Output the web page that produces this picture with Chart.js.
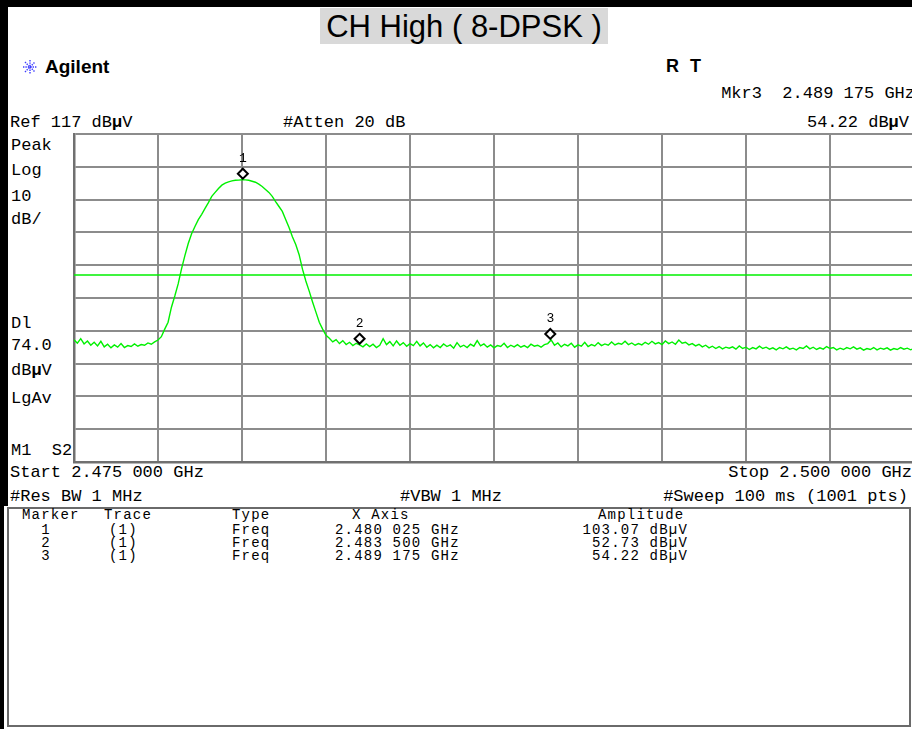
<!DOCTYPE html>
<html>
<head>
<meta charset="utf-8">
<script src="https://cdn.jsdelivr.net/npm/chart.js@4.4.1/dist/chart.umd.min.js"></script>
<style>
  body { margin: 0; width: 912px; height: 729px; overflow: hidden; background: #fff; position: relative;
         font-family: "Liberation Mono", "DejaVu Sans Mono", monospace; color: #000; }
  .t { position: absolute; white-space: pre; font-size: 17px; line-height: 17px; }
  .s { position: absolute; white-space: pre; font-size: 14px; line-height: 14px; letter-spacing: 1.2px; }
  .sans { font-family: "Liberation Sans", Arial, sans-serif; font-weight: bold; }
  #frameTop { position: absolute; left: 0; top: 0; width: 912px; height: 7px; background: #000; }
  #frameLeft { position: absolute; left: 0; top: 0; width: 8px; height: 506px; background: #000; }
  #frameLeft2 { position: absolute; left: 0; top: 506px; width: 4px; height: 223px; background: #000; }
  #title { position: absolute; left: 320px; top: 8px; width: 288px; height: 36px; background: #d9d9d9;
           font-family: "Liberation Sans", Arial, sans-serif; font-size: 31px; line-height: 37px; text-align: center; }
  #tableBox { position: absolute; left: 7px; top: 507px; width: 900px; height: 216px;
              border: 2px solid #6a6a6a; }
  #chart { position: absolute; left: 0; top: 0; }
</style>
</head>
<body>
<div id="frameTop"></div>
<div id="frameLeft"></div>
<div id="frameLeft2"></div>
<div id="title">CH High ( 8-DPSK )</div>

<svg style="position:absolute;left:22px;top:59px" width="16" height="16" viewBox="-8 -8 16 16">
  <g stroke="#3c3cff" stroke-width="1.4" stroke-dasharray="1.4 1">
    <line x1="-7" y1="0" x2="7" y2="0"/><line x1="0" y1="-7" x2="0" y2="7"/>
    <line x1="-5" y1="-5" x2="5" y2="5"/><line x1="-5" y1="5" x2="5" y2="-5"/>
  </g>
</svg>
<div class="t sans" style="left:45px;top:58px;font-size:19px">Agilent</div>
<div class="t sans" style="left:666px;top:58px;font-size:18px">R</div>
<div class="t sans" style="left:690px;top:58px;font-size:18px">T</div>

<div class="t" style="right:-3px;top:85px">Mkr3  2.489 175 GHz</div>
<div class="t" style="left:10px;top:114px">Ref 117 dB<b>µ</b>V</div>
<div class="t" style="left:283px;top:114px">#Atten 20 dB</div>
<div class="t" style="right:3px;top:114px">54.22 dB<b>µ</b>V</div>

<div class="t" style="left:11px;top:137px">Peak</div>
<div class="t" style="left:11px;top:162px">Log</div>
<div class="t" style="left:11px;top:188px">10</div>
<div class="t" style="left:11px;top:211px">dB/</div>
<div class="t" style="left:11px;top:315px">Dl</div>
<div class="t" style="left:11px;top:337px">74.0</div>
<div class="t" style="left:11px;top:362px">dB<b>µ</b>V</div>
<div class="t" style="left:11px;top:390px">LgAv</div>
<div class="t" style="left:11px;top:442px">M1  S2</div>

<div class="t" style="left:10px;top:464px">Start 2.475 000 GHz</div>
<div class="t" style="right:0px;top:464px">Stop 2.500 000 GHz</div>
<div class="t" style="left:10px;top:488px">#Res BW 1 MHz</div>
<div class="t" style="left:400px;top:488px">#VBW 1 MHz</div>
<div class="t" style="right:4px;top:488px">#Sweep 100 ms (1001 pts)</div>

<div id="tableBox"></div>
<div id="markerTable"></div>

<canvas id="chart" width="916" height="729"></canvas>

<script>
// sweep settings
const startGHz = 2.475;
const stopGHz = 2.500;
const refLevelDbuv = 117;
const dbPerDiv = 10;
const displayLineDbuv = 74.0;

// trace 1, 251 readings across the span (dBµV)
const traceDbuv = [
  54.3, 53.2, 54.6, 53.0, 53.9, 52.6, 53.5, 52.4, 53.8, 52.1,
  52.9, 51.8, 52.7, 52.0, 53.1, 51.9, 52.5, 52.2, 53.0, 52.3,
  52.8, 52.6, 53.3, 52.9, 53.6, 54.2,
  55.2, 57.5, 59.6, 64.2, 67.6, 71.3, 75.9, 79.9, 83.6, 86.6,
  88.8, 90.9, 92.5, 94.3, 96.1, 98.0, 99.2, 100.4, 101.4, 102.0,
  102.4, 102.7, 102.9, 102.95, 103.07, 103.0, 102.9, 102.6, 102.3, 101.7,
  101.0, 100.1, 99.2, 98.0, 96.4, 94.9, 93.4, 90.9, 88.5, 85.7,
  83.3, 80.2, 75.8, 72.2, 69.1, 65.8, 62.7, 59.6, 57.5, 55.6,
  54.7,
  53.6, 54.3, 53.1, 54.0, 52.8, 53.5, 52.5, 53.2, 52.73, 52.1,
  53.0, 52.2, 52.9, 51.9, 52.6, 54.6, 52.8, 53.7, 52.4, 53.9,
  52.6, 53.4, 52.3, 53.1, 52.5, 53.8, 52.4,
  53.3, 52.0, 52.8, 51.8, 52.6, 51.9, 53.0, 52.2, 52.7, 51.7,
  53.4, 52.1, 52.6, 51.9, 52.9, 52.3, 54.0, 52.4, 53.0, 52.0,
  52.7, 51.8, 52.5, 52.2, 53.2, 51.9, 52.6, 52.1, 52.8, 52.0,
  52.5, 51.9, 52.9, 52.3, 52.6, 52.0, 52.8, 53.1,
  54.22, 52.6, 53.3, 52.1, 52.9, 52.4, 53.2, 52.0, 52.7, 52.3,
  53.5, 52.2, 52.8, 52.4, 53.4, 52.5, 53.0, 52.6, 53.6, 52.7,
  53.2, 52.9, 53.8, 52.8, 53.3, 52.6, 53.1, 52.7, 53.5, 52.9,
  53.8, 53.0, 53.4, 52.8, 53.9, 53.1, 53.6, 52.9, 54.2, 53.2,
  53.5, 52.7, 53.1,
  52.4, 52.9, 52.1, 52.6, 51.8, 52.3, 51.6, 52.2, 51.5, 52.0,
  51.7, 52.1, 51.4, 52.4, 51.6, 52.0, 51.3, 51.9, 51.5, 52.3,
  51.6, 52.0, 51.4, 51.8, 51.2, 51.9, 51.5, 52.1, 51.4, 51.7,
  51.2, 51.9, 51.6, 52.4, 51.5, 52.0, 51.3, 51.8, 51.4, 52.2,
  51.6, 51.9, 51.2, 51.7, 51.3, 51.9, 51.5, 52.1, 51.4, 51.8,
  51.1, 51.6, 51.3, 51.9, 51.2, 51.7, 51.4, 51.8, 51.1, 51.6,
  51.3, 51.9, 51.4, 51.7, 51.2, 51.6
];

// marker readouts
const markerIds = ['1', '2', '3'];
const markerFreqGHz = [2.480025, 2.4835, 2.489175];
const markerAmpDbuv = [103.07, 52.73, 54.22];

const traceGreen = '#00f000';
const gridGray = '#8c8c8c';

const stepGHz = (stopGHz - startGHz) / (traceDbuv.length - 1);
const tracePoints = traceDbuv.map((v, i) => ({ x: startGHz + i * stepGHz, y: v }));
const bottomDbuv = refLevelDbuv - 10 * dbPerDiv;

// marker table below the screen
function fmtFreq(f) {
  const s = f.toFixed(6);
  return s.slice(0, 5) + ' ' + s.slice(5) + ' GHz';
}
const header = ['Marker', 'Trace', 'Type', 'X Axis', 'Amplitude'];
const headerLeft = [22, 104, 232, 352, 598];
const rowLeft = [40, 109, 232, 335, 560];
const rowWidth = [12, 40, 40, 130, 128];
const rowAlign = ['center', 'left', 'left', 'left', 'right'];
const tableEl = document.getElementById('markerTable');
function cell(txt, left, top, width, align) {
  const d = document.createElement('div');
  d.className = 's';
  d.style.left = left + 'px';
  d.style.top = top + 'px';
  if (width) d.style.width = width + 'px';
  if (align) d.style.textAlign = align;
  d.textContent = txt;
  tableEl.appendChild(d);
}
header.forEach((h, ci) => cell(h, headerLeft[ci], 508));
markerIds.forEach((id, i) => {
  const vals = [id, '(1)', 'Freq', fmtFreq(markerFreqGHz[i]), markerAmpDbuv[i].toFixed(2) + ' dBµV'];
  vals.forEach((v, ci) => cell(v, rowLeft[ci], 523 + i * 13, rowWidth[ci], rowAlign[ci]));
});

// diamonds and numbers sit just above the trace point
const markerPlugin = {
  id: 'markers',
  afterDatasetsDraw(chart) {
    const { ctx, scales: { x, y } } = chart;
    ctx.save();
    markerFreqGHz.forEach((f, i) => {
      const px = x.getPixelForValue(f);
      const py = y.getPixelForValue(markerAmpDbuv[i]) - 6;
      ctx.beginPath();
      ctx.moveTo(px, py - 5);
      ctx.lineTo(px + 5, py);
      ctx.lineTo(px, py + 5);
      ctx.lineTo(px - 5, py);
      ctx.closePath();
      ctx.fillStyle = '#fff';
      ctx.fill();
      ctx.lineWidth = 2;
      ctx.strokeStyle = '#000';
      ctx.stroke();
      ctx.fillStyle = '#000';
      ctx.font = '13px "Liberation Mono"';
      ctx.textAlign = 'center';
      ctx.textBaseline = 'middle';
      ctx.fillText(markerIds[i], px, py - 15);
    });
    ctx.restore();
  }
};

new Chart(document.getElementById('chart'), {
  type: 'line',
  data: {
    datasets: [
      {
        data: [{ x: startGHz, y: displayLineDbuv }, { x: stopGHz, y: displayLineDbuv }],
        borderColor: traceGreen,
        borderWidth: 1.5,
        pointRadius: 0
      },
      {
        data: tracePoints,
        borderColor: traceGreen,
        borderWidth: 1.4,
        pointRadius: 0,
        tension: 0
      }
    ]
  },
  options: {
    responsive: false,
    animation: false,
    events: [],
    layout: { padding: { left: 74, top: 134, right: 2, bottom: 267 } },
    plugins: { legend: { display: false }, tooltip: { enabled: false } },
    scales: {
      x: {
        type: 'linear',
        min: startGHz,
        max: stopGHz,
        afterBuildTicks(axis) {
          const ticks = [];
          for (let i = 0; i <= 10; i++) ticks.push({ value: startGHz + i * (stopGHz - startGHz) / 10 });
          axis.ticks = ticks;
        },
        ticks: { display: false },
        grid: { color: gridGray, lineWidth: 2, drawTicks: false },
        border: { color: '#707070', width: 2.5 }
      },
      y: {
        min: bottomDbuv,
        max: refLevelDbuv,
        ticks: { display: false, stepSize: dbPerDiv },
        grid: { color: gridGray, lineWidth: 2, drawTicks: false },
        border: { color: '#707070', width: 2.5 }
      }
    }
  },
  plugins: [markerPlugin]
});
</script>
</body>
</html>
